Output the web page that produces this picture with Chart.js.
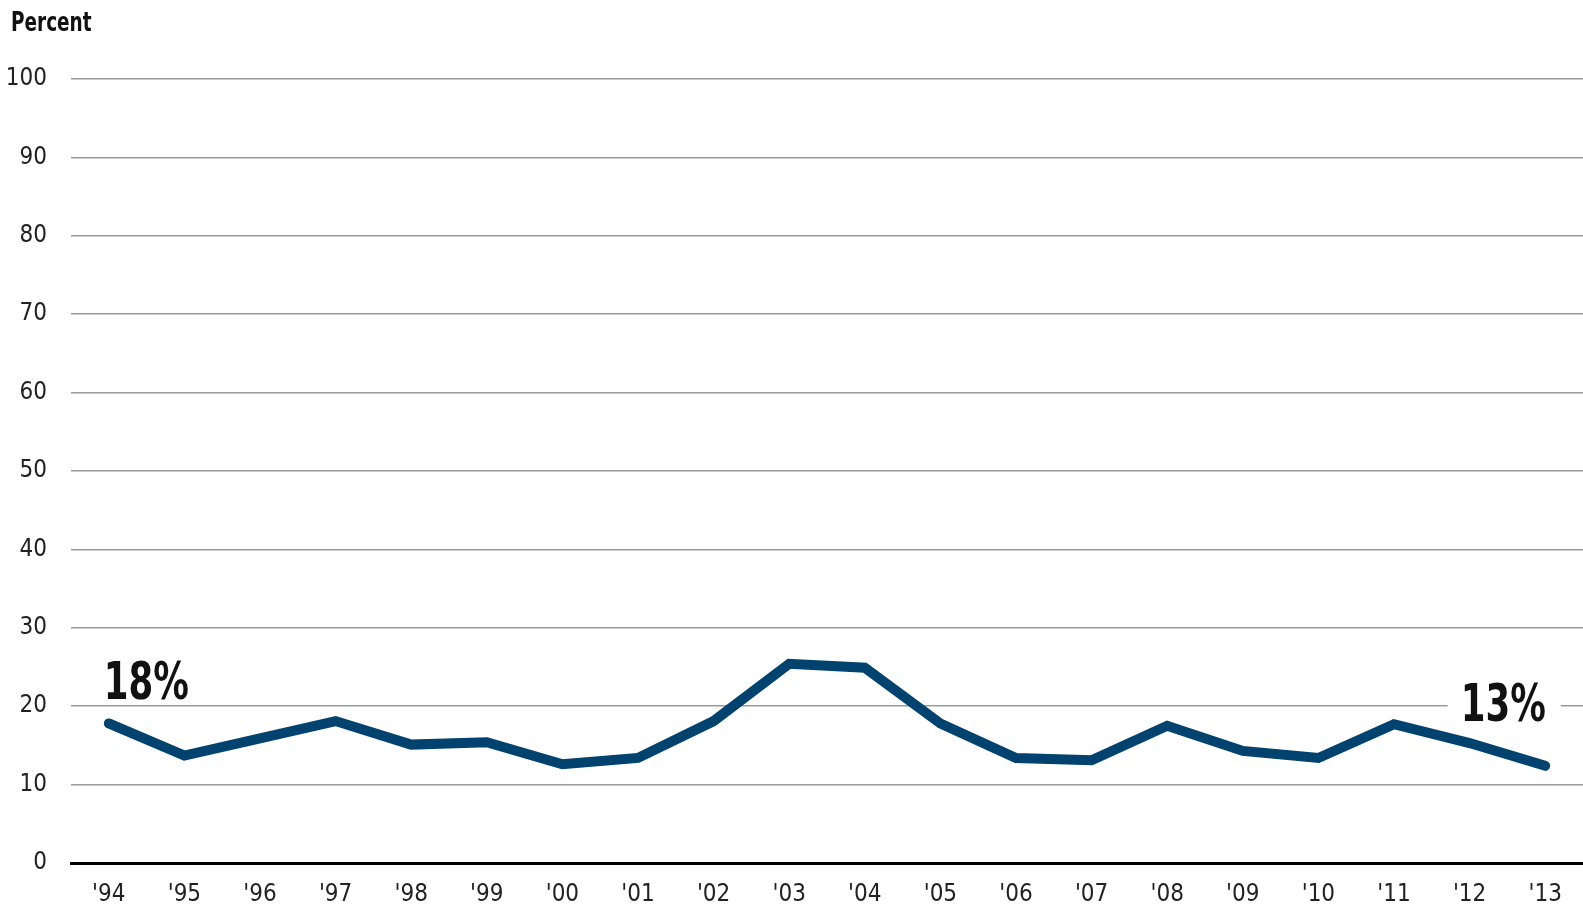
<!DOCTYPE html>
<html>
<head>
<meta charset="utf-8">
<script src="https://cdn.jsdelivr.net/npm/chart.js@4"></script>
<style>
  html, body { margin: 0; padding: 0; background: #fff; }
  #wrap { width: 1583px; height: 908px; position: relative; }
</style>
</head>
<body>
<div id="wrap"><canvas id="chart"></canvas></div>
<script>
// years on the x axis
const years = ["'94", "'95", "'96", "'97", "'98", "'99", "'00", "'01", "'02", "'03",
               "'04", "'05", "'06", "'07", "'08", "'09", "'10", "'11", "'12", "'13"];
// percent values
const percent = [17.8, 13.7, 15.9, 18.1, 15.1, 15.4, 12.6, 13.4, 18.1, 25.4,
                 24.9, 17.8, 13.4, 13.1, 17.5, 14.3, 13.4, 17.7, 15.3, 12.4];
const yTicks = [0, 10, 20, 30, 40, 50, 60, 70, 80, 90, 100];
const startLabel = "18%";
const endLabel = "13%";
const axisTitle = "Percent";

const FONT = "'DejaVu Sans Condensed', 'Liberation Sans Narrow', sans-serif";
const lineColor = "#01426e";

// narrow text: squeeze horizontally so it looks like a condensed face
function narrowText(ctx, text, x, y, sx, align) {
  const w = ctx.measureText(text).width * sx;
  let left = x;
  if (align === "center") left = x - w / 2;
  ctx.save();
  ctx.translate(left, y);
  ctx.scale(sx, 1);
  ctx.textAlign = "left";
  ctx.fillText(text, 0, 0);
  ctx.restore();
  return w;
}

// draws the "Percent" title and the two value call-outs
const labelsPlugin = {
  id: "labels",
  afterDatasetsDraw(chart) {
    const ctx = chart.ctx;
    const x = chart.scales.x;
    const y = chart.scales.y;
    ctx.save();
    ctx.textBaseline = "alphabetic";

    ctx.fillStyle = "#111";
    ctx.font = "bold 27px " + FONT;
    narrowText(ctx, axisTitle, 11, 31, 0.76, "left");

    ctx.font = "bold 52px " + FONT;
    narrowText(ctx, startLabel, x.getPixelForValue(0) - 5, y.getPixelForValue(20.9), 0.76, "left");

    // end label sits on a white box that cuts the 20 gridline
    const ex = x.getPixelForValue(percent.length - 1) - 42;
    const ey = y.getPixelForValue(18.1);
    const w = ctx.measureText(endLabel).width * 0.76;
    ctx.fillStyle = "#fff";
    ctx.fillRect(ex - w / 2 - 13, ey - 44, w + 28, 50);
    ctx.fillStyle = "#111";
    narrowText(ctx, endLabel, ex, ey, 0.76, "center");
    ctx.restore();
  }
};

new Chart(document.getElementById("chart"), {
  type: "line",
  data: {
    labels: years,
    datasets: [{
      data: percent,
      borderColor: lineColor,
      borderWidth: 10,
      borderCapStyle: "round",
      borderJoinStyle: "miter",
      pointRadius: 0,
      tension: 0,
      fill: false
    }]
  },
  options: {
    responsive: true,
    maintainAspectRatio: false,
    animation: false,
    layout: { padding: { top: 79, right: 0, left: 0, bottom: 0 } },
    plugins: {
      legend: { display: false },
      tooltip: { enabled: false }
    },
    scales: {
      x: {
        offset: true,
        grid: { display: false, drawTicks: false },
        border: { display: true, color: "#000", width: 3 },
        ticks: {
          color: "#222",
          font: { family: FONT, size: 24 },
          padding: 17,
          maxRotation: 0,
          autoSkip: false
        },
        afterFit(scale) { scale.height = 45; }
      },
      y: {
        min: 0,
        max: 100,
        afterBuildTicks(scale) { scale.ticks = yTicks.map(v => ({ value: v })); },
        grid: {
          drawTicks: false,
          color: "#9a9a9a",
          lineWidth: 1.5
        },
        border: { display: false },
        ticks: {
          color: "#222",
          font: { family: FONT, size: 24 },
          padding: 24
        },
        afterFit(scale) { scale.width = 71; }
      }
    }
  },
  plugins: [labelsPlugin]
});
</script>
</body>
</html>
